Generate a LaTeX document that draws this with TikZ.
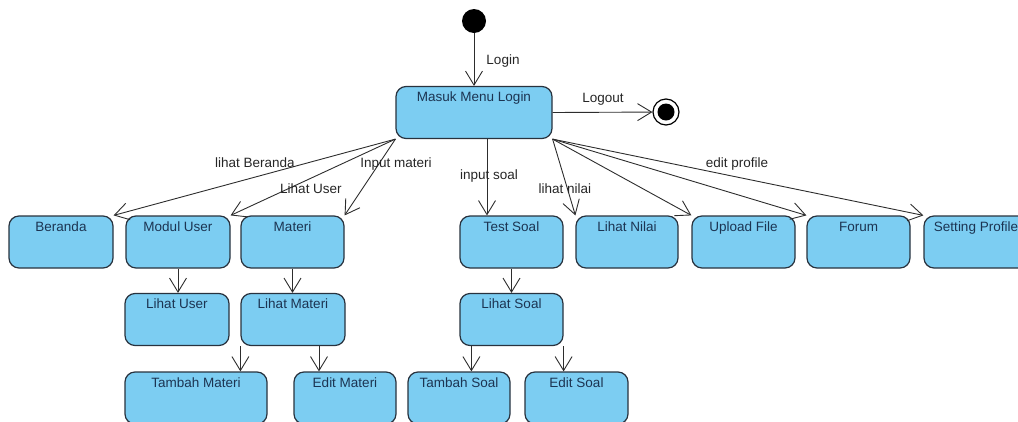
\documentclass[tikz,border=0pt]{standalone}
\usepackage{fontspec}
\setmainfont{Liberation Sans}
\usetikzlibrary{arrows.meta}

\definecolor{statefill}{RGB}{124,205,242}
\definecolor{stateline}{RGB}{40,50,62}
\definecolor{statetext}{RGB}{28,52,82}
\definecolor{edgecol}{RGB}{45,45,45}

\tikzset{
  state/.style={rectangle, rounded corners=10pt, draw=stateline, line width=1.2pt,
    fill=statefill, text=statetext, inner xsep=0pt, inner ysep=2pt,
    text height=13pt, text depth=35pt, align=center,
    font=\fontsize{13.5}{16}\selectfont},
  edge/.style={draw=edgecol, line width=0.9pt,
    -{Straight Barb[length=14pt,width=17pt,line width=0.9pt]}},
  lbl/.style={anchor=base, inner sep=0pt, text=black!85,
    font=\fontsize{13.5}{16}\selectfont},
  startstate/.style={circle, fill=black, minimum size=24pt, inner sep=0pt},
  endstate/.style={circle, draw=black, line width=1.2pt, fill=white,
    minimum size=26pt, inner sep=0pt},
}

\begin{document}
\begin{tikzpicture}[x=1pt, y=-1pt]
  \useasboundingbox (0,0) rectangle (1018,421);
  \clip (0,0) rectangle (1018,421);

  % start, main menu and end
  \node[startstate] (init) at (474,21) {};
  \node[state, minimum width=156pt] (masuk) at (474,112.5) {Masuk Menu Login};
  \node[endstate] (final) at (666,112) {};
  \fill[black] (final.center) circle (8.5pt);

  % first row
  \node[state, minimum width=104pt] (beranda)    at (61,242)    {Beranda};
  \node[state, minimum width=104pt] (modul)      at (178,242)   {Modul User};
  \node[state, minimum width=103pt] (materi)     at (292.5,242) {Materi};
  \node[state, minimum width=103pt] (testsoal)   at (511.5,242) {Test Soal};
  \node[state, minimum width=102pt] (lihatnilai) at (627,242)   {Lihat Nilai};
  \node[state, minimum width=103pt] (upload)     at (743.5,242) {Upload File};
  \node[state, minimum width=103pt] (forum)      at (858.5,242) {Forum};
  \node[state, minimum width=104pt] (setting)    at (976,242)   {Setting Profile};

  % second row
  \node[state, minimum width=104pt] (lihatuser)   at (177,319.5) {Lihat User};
  \node[state, minimum width=104pt] (lihatmateri) at (293,319.5) {Lihat Materi};
  \node[state, minimum width=103pt] (lihatsoal)   at (511.5,319.5) {Lihat Soal};

  % third row
  \node[state, minimum width=142pt] (tambahmateri) at (196,398)   {Tambah Materi};
  \node[state, minimum width=102pt] (editmateri)   at (345,398)   {Edit Materi};
  \node[state, minimum width=102pt] (tambahsoal)   at (459,398)   {Tambah Soal};
  \node[state, minimum width=103pt] (editsoal)     at (576.5,398) {Edit Soal};

  % transitions
  \draw[edge] (init) -- (masuk);
  \draw[edge] (masuk.east) -- (final);

  \draw[edge] (masuk.south west) -- (beranda.north east);
  \draw[edge] (masuk.south west) -- (modul.north east);
  \draw[edge] (masuk.south west) -- (materi.north east);
  \draw[edge] ([xshift=13pt]masuk.south) -- ([xshift=13pt]masuk.south |- testsoal.north);
  \draw[edge] (masuk.south east) -- (lihatnilai.north west);
  \draw[edge] (masuk.south east) -- (upload.north west);
  \draw[edge] (masuk.south east) -- (forum.north west);
  \draw[edge] (masuk.south east) -- (setting.north west);

  \draw[edge] (modul.south) -- (modul.south |- lihatuser.north);
  \draw[edge] (materi.south) -- (materi.south |- lihatmateri.north);
  \draw[edge] (testsoal.south) -- (testsoal.south |- lihatsoal.north);

  \draw[edge] (lihatmateri.south west) -- (lihatmateri.south west |- tambahmateri.north);
  \draw[edge] ([xshift=26pt]lihatmateri.south) -- ([xshift=26pt]lihatmateri.south |- editmateri.north);
  \draw[edge] ([xshift=12pt]lihatsoal.south west) -- ([xshift=12pt]lihatsoal.south west |- tambahsoal.north);
  \draw[edge] (lihatsoal.south east) -- (lihatsoal.south east |- editsoal.north);

  % transition labels
  \node[lbl] (tLogin)   at (503,64)  {Login};
  \node[lbl] (tLogout)  at (603,102) {Logout};
  \node[lbl] (tBeranda) at (255,167) {lihat Beranda};
  \node[lbl] (tMateri)  at (396,167) {Input materi};
  \node[lbl] (tUser)    at (311,193) {Lihat User};
  \node[lbl] (tSoal)    at (489,179) {input soal};
  \node[lbl] (tNilai)   at (565,193) {lihat nilai};
  \node[lbl] (tProfile) at (737,167) {edit profile};
\end{tikzpicture}
\end{document}
